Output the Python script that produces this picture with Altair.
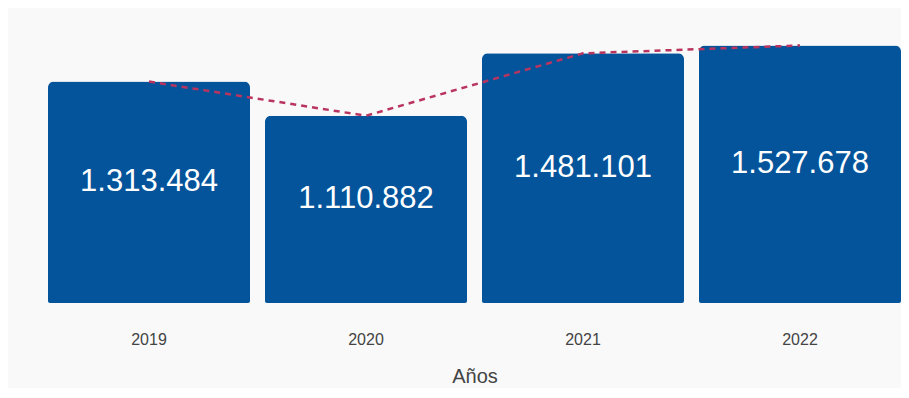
import altair as alt
import pandas as pd

years = ["2019", "2020", "2021", "2022"]
values = [1313484, 1110882, 1481101, 1527678]
labels = ["1.313.484", "1.110.882", "1.481.101", "1.527.678"]

df = pd.DataFrame({"year": years, "value": values, "label": labels})

FONT = "Liberation Sans, Arial, sans-serif"

xscale = alt.Scale(paddingInner=0.069, paddingOuter=0)
yscale = alt.Scale(domain=[0, 1750000])

x = alt.X(
    "year:N",
    title="Años",
    scale=xscale,
    axis=alt.Axis(
        labelAngle=0, domain=False, ticks=False, tickSize=0, grid=False,
        labelPadding=28, labelFontSize=16, labelFont=FONT, labelColor="#444444",
        titleFont=FONT, titleFontSize=20, titleFontWeight="normal",
        titleColor="#444444", titleY=73, titleBaseline="middle",
    ),
)

base = alt.Chart(df)

bars = base.mark_bar(
    color="#03549b",
    cornerRadiusTopLeft=6, cornerRadiusTopRight=6,
    cornerRadiusBottomLeft=2, cornerRadiusBottomRight=2,
).encode(x=x, y=alt.Y("value:Q", scale=yscale, axis=None))

line = base.mark_line(
    color="#b9355f", strokeDash=[6, 5], strokeWidth=2.5, interpolate="linear"
).encode(x=x, y=alt.Y("value:Q", scale=yscale, axis=None))

text = base.transform_calculate(mid="datum.value / 2").mark_text(
    color="white", fontSize=31, font=FONT, baseline="middle", dy=-10
).encode(x=x, y=alt.Y("mid:Q", scale=yscale, axis=None), text="label:N")

chart = alt.layer(bars, line, text).properties(
    width=853,
    height=295,
    padding={"left": 40, "top": 0, "right": 0, "bottom": 85},
    autosize=alt.AutoSizeParams(type="none"),
    background="#f9f9f9",
).configure_view(stroke=None)

chart.save("out.html", embed_options={"renderer": "svg", "actions": False})
